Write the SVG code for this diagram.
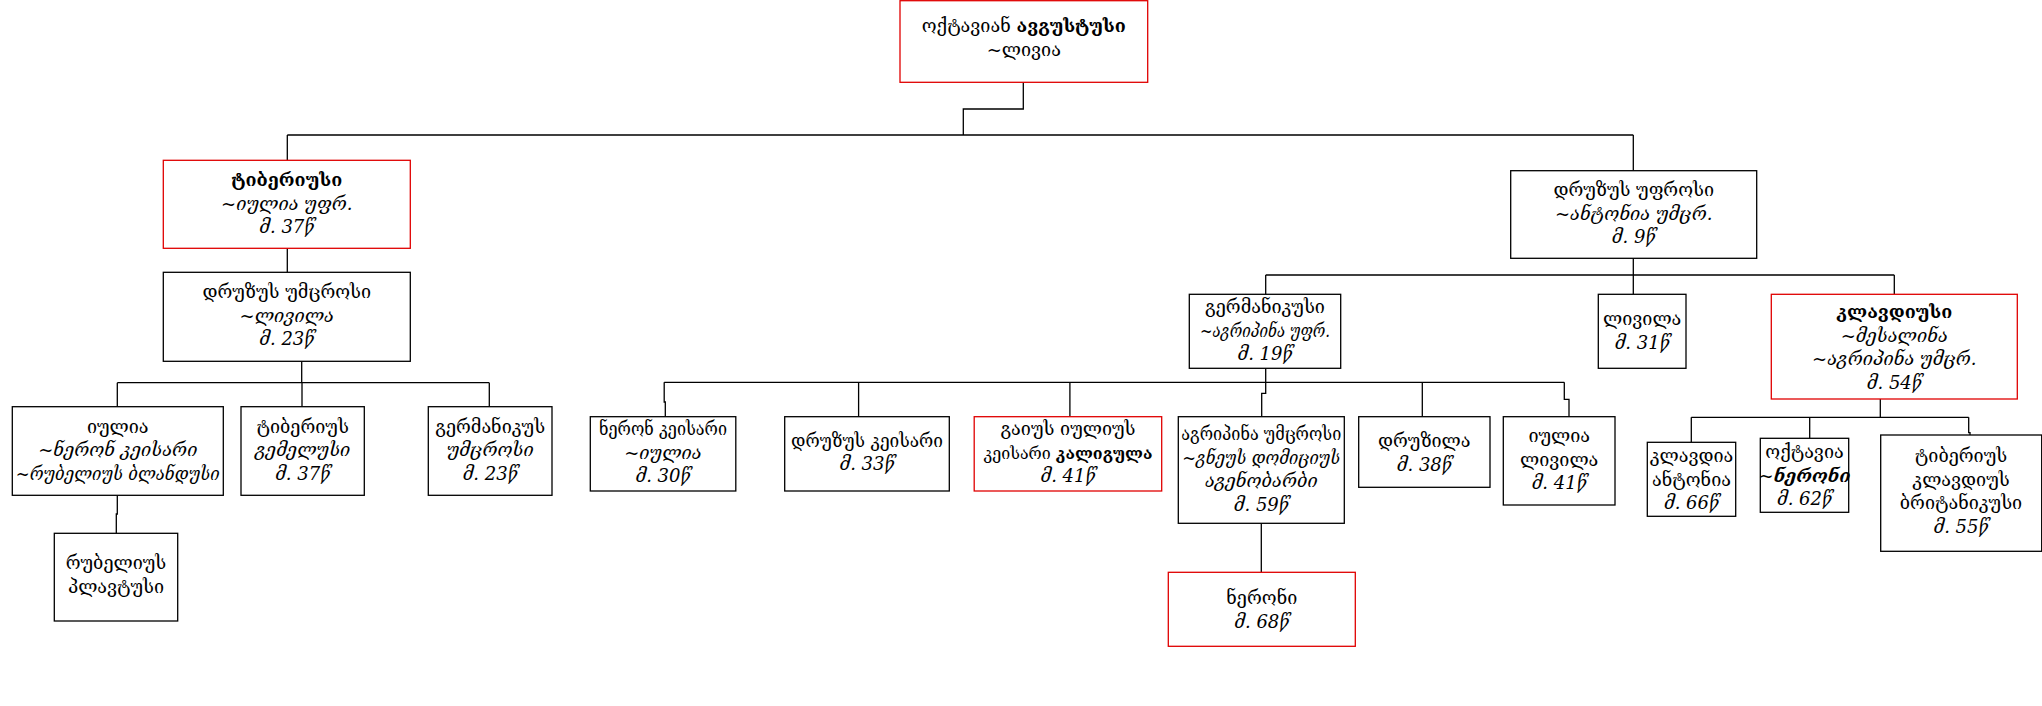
<svg xmlns="http://www.w3.org/2000/svg" width="2042" height="706" viewBox="0 0 2042 706">
<style>
.n{fill:#fff;stroke:#000;stroke-width:1.3}
.r{stroke:#e00000}
.c{fill:none;stroke:#000;stroke-width:1.3}
text{font-family:"DejaVu Serif","DejaVu Sans",serif;font-size:18px;text-anchor:middle;fill:#000}
.i{font-style:italic}
.b{font-weight:bold}
</style>
<rect width="2042" height="706" fill="#fff"/>
<g id="connectors">
<path class="c" d="M1023.3,82.3V109H963.3V135M287.3,135H1633.3M287.3,135V160.3M1633.3,135V170.7"/>
<path class="c" d="M287.3,248.3V272.3M301.7,361.3V382.7M117.3,382.7H489.3M117.3,382.7V406.7M302,382.7V406.7M489.3,382.7V406.7M117.3,495.3V514H116.3V533.3"/>
<path class="c" d="M1633.3,258.3V275M1265.7,275H1894.3M1265.7,275V294.3M1633.3,275V294.3M1894.3,275V294.3"/>
<path class="c" d="M1265.7,368.3V382.3M664.2,382.3H1564.3M664.2,382.3V402H665.3V416.7M858.6,382.3V416.7M1069.9,382.3V416.7M1265.7,382.3V393.3H1261.7V416.7M1422.3,382.3V416.7M1564.3,382.3V399.3H1569V416.7M1261.3,523.3V572.3"/>
<path class="c" d="M1880.3,399V417.3M1691.3,417.3H1968.7M1691.3,417.3V442.3M1809.7,417.3V438.3M1968.7,417.3V432.7H1970V435"/>
</g>
<g id="augustus"><rect class="n r" x="900" y="0.7" width="247.7" height="81.6"/>
<text x="1023.8" y="32">ოქტავიან <tspan class="b">ავგუსტუსი</tspan></text>
<text x="1023.8" y="56">~ლივია</text></g>
<g id="tiberius"><rect class="n r" x="163.3" y="160.3" width="247" height="88"/>
<text x="286.8" y="185.7" class="b">ტიბერიუსი</text>
<text x="286.8" y="209.5" class="i">~იულია უფრ.</text>
<text x="286.8" y="233" class="i">მ. 37წ</text></g>
<g id="drusus-minor"><rect class="n" x="163.3" y="272.3" width="247" height="89"/>
<text x="286.8" y="298">დრუზუს უმცროსი</text>
<text x="286.8" y="321.5" class="i">~ლივილა</text>
<text x="286.8" y="345" class="i">მ. 23წ</text></g>
<g id="drusus-major"><rect class="n" x="1510.7" y="170.7" width="246" height="87.6"/>
<text x="1633.7" y="196">დრუზუს უფროსი</text>
<text x="1633.7" y="219.5" class="i">~ანტონია უმცრ.</text>
<text x="1633.7" y="243" class="i">მ. 9წ</text></g>
<g id="germanicus"><rect class="n" x="1189.3" y="294.3" width="151.4" height="74"/>
<text x="1265" y="313">გერმანიკუსი</text>
<text x="1265" y="336.5" class="i" textLength="130" lengthAdjust="spacingAndGlyphs">~აგრიპინა უფრ.</text>
<text x="1265" y="360" class="i">მ. 19წ</text></g>
<g id="livilla"><rect class="n" x="1598.3" y="294.3" width="87.7" height="74"/>
<text x="1642.2" y="325">ლივილა</text>
<text x="1642.2" y="348.5" class="i">მ. 31წ</text></g>
<g id="claudius"><rect class="n r" x="1771.3" y="294.3" width="246" height="104.7"/>
<text x="1894.3" y="318" class="b">კლავდიუსი</text>
<text x="1894.3" y="341.5" class="i">~მესალინა</text>
<text x="1894.3" y="365" class="i">~აგრიპინა უმცრ.</text>
<text x="1894.3" y="388.5" class="i">მ. 54წ</text></g>
<g id="julia"><rect class="n" x="12.3" y="406.7" width="211" height="88.6"/>
<text x="117.8" y="432.5">იულია</text>
<text x="117.8" y="456" class="i">~ნერონ კეისარი</text>
<text x="117.8" y="479.5" class="i" textLength="204" lengthAdjust="spacingAndGlyphs">~რუბელიუს ბლანდუსი</text></g>
<g id="gemellus"><rect class="n" x="241" y="406.7" width="123.3" height="88.6"/>
<text x="302.7" y="432.5">ტიბერიუს</text>
<text x="302.7" y="456" class="i">გემელუსი</text>
<text x="302.7" y="479.5" class="i">მ. 37წ</text></g>
<g id="germanicus-minor"><rect class="n" x="428.3" y="406.7" width="123.7" height="88.6"/>
<text x="490.2" y="432.5">გერმანიკუს</text>
<text x="490.2" y="456" class="i">უმცროსი</text>
<text x="490.2" y="479.5" class="i">მ. 23წ</text></g>
<g id="rubellius"><rect class="n" x="54.3" y="533.3" width="123.4" height="87.7"/>
<text x="116" y="569">რუბელიუს</text>
<text x="116" y="592.5">პლავტუსი</text></g>
<g id="nero-caesar"><rect class="n" x="590.3" y="416.7" width="145.5" height="74.3"/>
<text x="663" y="435" textLength="128" lengthAdjust="spacingAndGlyphs">ნერონ კეისარი</text>
<text x="663" y="458.5" class="i">~იულია</text>
<text x="663" y="482" class="i">მ. 30წ</text></g>
<g id="drusus-caesar"><rect class="n" x="784.7" y="416.7" width="164.6" height="74.3"/>
<text x="867" y="446.6" textLength="152" lengthAdjust="spacingAndGlyphs">დრუზუს კეისარი</text>
<text x="867" y="470.1" class="i">მ. 33წ</text></g>
<g id="caligula"><rect class="n r" x="974.2" y="416.7" width="187.5" height="74.3"/>
<text x="1068" y="435">გაიუს იულიუს</text>
<text x="1068" y="458.5" style="font-size:16px">კეისარი <tspan class="b">კალიგულა</tspan></text>
<text x="1068" y="482" class="i">მ. 41წ</text></g>
<g id="agrippina-minor"><rect class="n" x="1178.3" y="416.7" width="166" height="106.6"/>
<text x="1261.3" y="440" textLength="160" lengthAdjust="spacingAndGlyphs">აგრიპინა უმცროსი</text>
<text x="1261.3" y="463.5" class="i" textLength="158" lengthAdjust="spacingAndGlyphs">~გნეუს დომიციუს</text>
<text x="1261.3" y="487" class="i">აგენობარბი</text>
<text x="1261.3" y="510.5" class="i">მ. 59წ</text></g>
<g id="drusilla"><rect class="n" x="1358.7" y="416.7" width="131.3" height="70.6"/>
<text x="1424.3" y="447">დრუზილა</text>
<text x="1424.3" y="470.5" class="i">მ. 38წ</text></g>
<g id="julia-livilla"><rect class="n" x="1503.3" y="416.7" width="111.7" height="88.3"/>
<text x="1559.2" y="442">იულია</text>
<text x="1559.2" y="465.5">ლივილა</text>
<text x="1559.2" y="489" class="i">მ. 41წ</text></g>
<g id="nero"><rect class="n r" x="1168.3" y="572.3" width="187" height="74"/>
<text x="1261.8" y="604">ნერონი</text>
<text x="1261.8" y="627.5" class="i">მ. 68წ</text></g>
<g id="claudia-antonia"><rect class="n" x="1647.3" y="442.3" width="88.4" height="74"/>
<text x="1691.5" y="462">კლავდია</text>
<text x="1691.5" y="485.5">ანტონია</text>
<text x="1691.5" y="509" class="i">მ. 66წ</text></g>
<g id="octavia"><rect class="n" x="1760.3" y="438.3" width="88.4" height="74"/>
<text x="1804.5" y="458">ოქტავია</text>
<text x="1804.5" y="481.5" class="i">~<tspan class="b">ნერონი</tspan></text>
<text x="1804.5" y="505" class="i">მ. 62წ</text></g>
<g id="britannicus"><rect class="n" x="1880.7" y="435" width="161" height="116.3"/>
<text x="1961" y="462">ტიბერიუს</text>
<text x="1961" y="485.5">კლავდიუს</text>
<text x="1961" y="509">ბრიტანიკუსი</text>
<text x="1961" y="532.5" class="i">მ. 55წ</text></g>
</svg>
